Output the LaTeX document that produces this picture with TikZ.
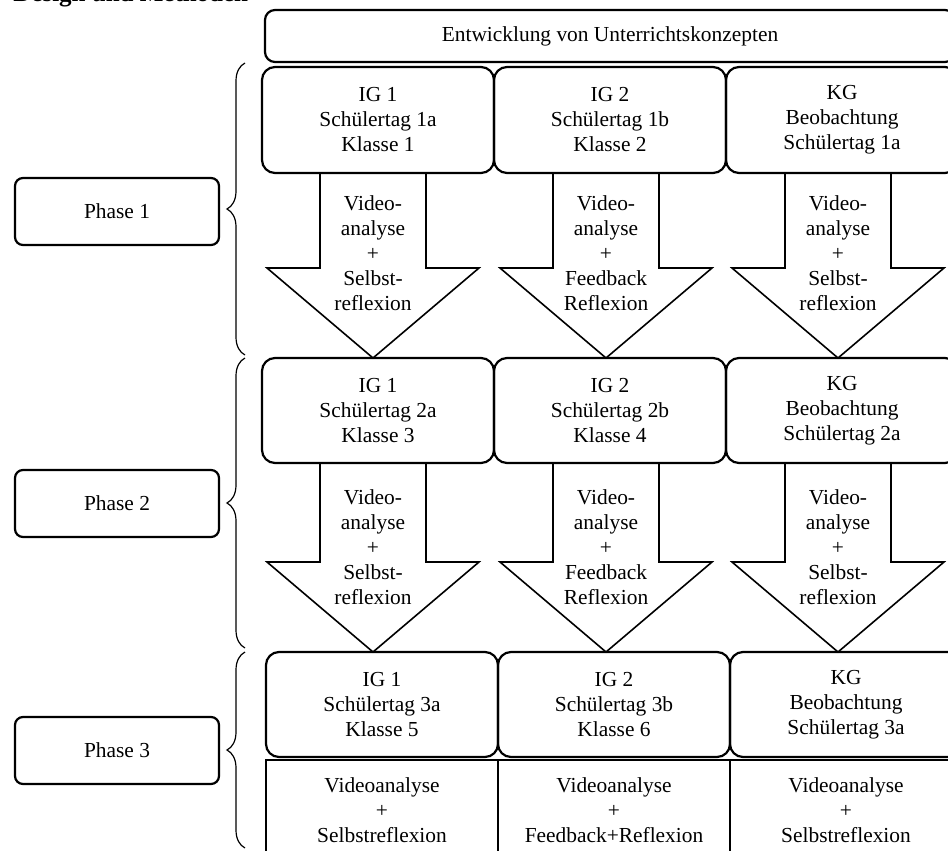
\documentclass[tikz,border=0pt]{standalone}
\usepackage{fontspec}
\setmainfont{Liberation Serif}
\usetikzlibrary{decorations.pathreplacing}
\tikzset{
	gruppe/.style={draw=black, line width=1.1pt, rounded corners=6.5pt, minimum width=116pt, minimum height=53pt, inner sep=0pt, align=center, font=\fontsize{10.7}{12.5}\selectfont},
	aufgabe/.style={draw=black, line width=1.1pt, minimum width=116pt, minimum height=50pt, inner sep=0pt, align=center, font=\fontsize{10.7}{12.5}\selectfont},
	phase/.style={draw=black, line width=1.1pt, rounded corners=4pt, minimum width=102pt, minimum height=33.5pt, inner sep=0pt, font=\fontsize{10.7}{12.5}\selectfont},
	pfeilline/.style={draw=black, line width=0.8pt, line join=miter},
	pfeiltext/.style={inner sep=0pt, align=center, font=\fontsize{10.7}{12.5}\selectfont},
	klammer/.style={draw=black, line width=0.6pt, decorate, decoration={brace, amplitude=9pt}}
}
\newcommand{\pfeil}[5]{%
	\draw[pfeilline] (#2-53,#3) -- (#2-53,#4-90) -- (#2-106,#4-90) -- (#2,#4) -- (#2+106,#4-90) -- (#2+53,#4-90) -- (#2+53,#3);
	\node[pfeiltext] (#1) at (#2,#4-105) {#5};}

\begin{document}
\begin{tikzpicture}[x=0.5pt, y=-0.5pt]
			\useasboundingbox (0,0) rectangle (948,851);
			\node[anchor=base west, inner sep=0pt, font=\fontsize{12.5}{15}\selectfont\bfseries] (titel) at (13,2) {Design und Methoden};
			\node[gruppe, rounded corners=5pt, minimum width=345pt, minimum height=26pt] (konzept) at (610,36) {Entwicklung von Unterrichtskonzepten};
			% Phase 1
			\node[gruppe] (igA) at (378,120) {IG 1\\Schülertag 1a\\Klasse 1};
			\node[gruppe] (igB) at (610,120) {IG 2\\Schülertag 1b\\Klasse 2};
			\node[gruppe] (kgC) at (842,120) {KG\\Beobachtung\\Schülertag 1a};
			\pfeil{pfA}{373}{173}{358}{Video-\\analyse\\+\\Selbst-\\reflexion}
			\pfeil{pfB}{606}{173}{358}{Video-\\analyse\\+\\Feedback\\Reflexion}
			\pfeil{pfC}{838}{173}{358}{Video-\\analyse\\+\\Selbst-\\reflexion}
			% Phase 2
			\node[gruppe, minimum height=52.5pt] (igD) at (378,410.5) {IG 1\\Schülertag 2a\\Klasse 3};
			\node[gruppe, minimum height=52.5pt] (igE) at (610,410.5) {IG 2\\Schülertag 2b\\Klasse 4};
			\node[gruppe, minimum height=52.5pt] (kgF) at (842,410.5) {KG\\Beobachtung\\Schülertag 2a};
			\pfeil{pfD}{373}{463}{652}{Video-\\analyse\\+\\Selbst-\\reflexion}
			\pfeil{pfE}{606}{463}{652}{Video-\\analyse\\+\\Feedback\\Reflexion}
			\pfeil{pfF}{838}{463}{652}{Video-\\analyse\\+\\Selbst-\\reflexion}
			% Phase 3
			\node[gruppe, minimum height=52.5pt] (igG) at (382,704.5) {IG 1\\Schülertag 3a\\Klasse 5};
			\node[gruppe, minimum height=52.5pt] (igH) at (614,704.5) {IG 2\\Schülertag 3b\\Klasse 6};
			\node[gruppe, minimum height=52.5pt] (kgI) at (846,704.5) {KG\\Beobachtung\\Schülertag 3a};
			\node[aufgabe] (vaG) at (382,810) {Videoanalyse\\+\\Selbstreflexion};
			\node[aufgabe] (vaH) at (614,810) {Videoanalyse\\+\\Feedback+Reflexion};
			\node[aufgabe] (vaI) at (846,810) {Videoanalyse\\+\\Selbstreflexion};
			% Phasen links
			\node[phase] (phase1) at (117,211.5) {Phase 1};
			\node[phase] (phase2) at (117,503.5) {Phase 2};
			\node[phase] (phase3) at (117,750.5) {Phase 3};
			\draw[klammer] (245,355) -- (245,63);
			\draw[klammer] (245,648) -- (245,358);
			\draw[klammer] (245,848) -- (245,652);
		\end{tikzpicture}
\end{document}
